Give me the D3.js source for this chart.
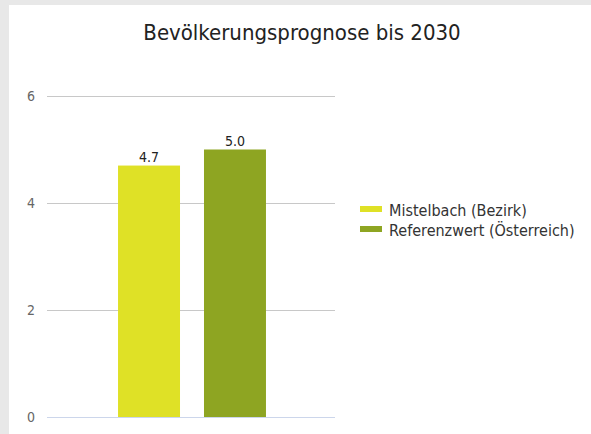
<!DOCTYPE html>
<html><head><meta charset="utf-8">
<script src="https://cdn.jsdelivr.net/npm/d3@7"></script>
<style>body{margin:0;background:#e8e8e8;} svg text{font-family:"DejaVu Sans Condensed","DejaVu Sans",sans-serif;font-stretch:condensed;}</style>
</head><body><svg id="c" width="591" height="434"></svg>
<script>
const categories = ["Mistelbach (Bezirk)", "Referenzwert (Österreich)"];
const values = [4.7, 5.0];
const colors = ["#dfe126", "#8ea522"];
const yTicks = [0, 2, 4, 6];
const title = "Bevölkerungsprognose bis 2030";

const svg = d3.select("#c");
svg.append("rect").attr("x", 9).attr("y", 5).attr("width", 582).attr("height", 429).attr("fill", "#fff");
svg.append("text").attr("x", 302).attr("y", 40).attr("text-anchor", "middle")
  .attr("font-size", 22).attr("fill", "#222").text(title);

const y = d3.scaleLinear().domain([0, 6]).range([417, 96]);
const x = d3.scaleBand().domain(categories).range([106, 278]).paddingInner(0.279).paddingOuter(0.14);

const grid = svg.append("g");
yTicks.forEach(t => {
  grid.append("line").attr("x1", 47).attr("x2", 335).attr("y1", y(t) + 0.5).attr("y2", y(t) + 0.5)
    .attr("stroke", t === 0 ? "#ccd6eb" : "#c8c8c8").attr("stroke-width", 1);
  grid.append("text").attr("x", 35).attr("y", y(t) + 5).attr("text-anchor", "end")
    .attr("font-size", 14).attr("fill", "#666").text(t);
});

svg.selectAll("rect.bar").data(values).join("rect").attr("class", "bar")
  .attr("x", (d, i) => x(categories[i])).attr("width", x.bandwidth())
  .attr("y", d => y(d)).attr("height", d => y(0) - y(d)).attr("fill", (d, i) => colors[i]);

svg.selectAll("text.lbl").data(values).join("text").attr("class", "lbl")
  .attr("x", (d, i) => x(categories[i]) + x.bandwidth() / 2).attr("y", d => y(d) - 4)
  .attr("text-anchor", "middle").attr("font-size", 14).attr("fill", "#222").text(d => d.toFixed(1));

const leg = svg.append("g");
categories.forEach((c, i) => {
  const yy = 209 + i * 20;
  leg.append("rect").attr("x", 360).attr("y", yy - 3).attr("width", 22).attr("height", 6).attr("fill", colors[i]);
  leg.append("text").attr("x", 389).attr("y", yy + 7).attr("font-size", 16).attr("fill", "#333").text(c);
});
</script></body></html>
